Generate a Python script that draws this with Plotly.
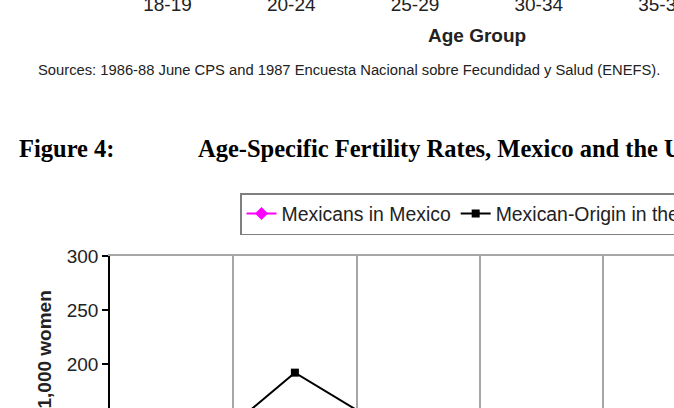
import plotly.graph_objects as go

# ---- data ----
age_groups = ["18-19", "20-24", "25-29", "30-34", "35-39", "40-44"]
mexicans_in_mexico = [110, 150, 145, 115, 75, 30]
mexican_origin_us = [96, 192, 123, 88, 52, 18]
y_tick_values = [200, 250, 300]

W, H = 674, 408
def px(x):
    return x / W
def py(y):
    return 1 - y / H

sans = "Liberation Sans, Arial, sans-serif"
serif = "Liberation Serif, Times New Roman, serif"
txt = "#222222"

fig = go.Figure()
fig.add_trace(go.Scatter(
    x=age_groups, y=mexicans_in_mexico, name="Mexicans in Mexico",
    mode="lines+markers", line=dict(color="#ff00ff", width=2),
    marker=dict(symbol="diamond", size=10, color="#ff00ff"),
    xaxis="x", yaxis="y"))
fig.add_trace(go.Scatter(
    x=age_groups, y=mexican_origin_us, name="Mexican-Origin in the U.S.",
    mode="lines+markers", line=dict(color="#000000", width=2),
    marker=dict(symbol="square", size=8, color="#000000"),
    xaxis="x", yaxis="y"))
# previous figure's category axis (only its labels are visible at the top)
fig.add_trace(go.Scatter(
    x=age_groups, y=[None] * len(age_groups), showlegend=False,
    hoverinfo="skip", xaxis="x2", yaxis="y2"))

fig.update_layout(
    width=W, height=H,
    margin=dict(l=0, r=0, t=0, b=0, autoexpand=False),
    paper_bgcolor="white", plot_bgcolor="white",
    font=dict(family=sans, color=txt, size=19),
    showlegend=True,
    legend=dict(
        orientation="h", x=px(240), y=py(193), xanchor="left", yanchor="top",
        bordercolor="#7f7f7f", borderwidth=1.5, bgcolor="white",
        font=dict(family=sans, size=19.4, color=txt),
        traceorder="normal"),
    xaxis=dict(
        domain=[px(110), 1], anchor="y", type="category",
        categoryorder="array", categoryarray=age_groups,
        range=[-0.5, -0.5 + (W - 110) / 123.25],
        tickson="boundaries", ticks="", showticklabels=False,
        showgrid=True, gridcolor="#a6a6a6", gridwidth=1.5,
        showline=True, side="top", linecolor="#a6a6a6", linewidth=1.5,
        zeroline=False),
    yaxis=dict(
        domain=[0, py(256)], anchor="x",
        range=[300 - (H - 256) / 1.08, 300],
        tickvals=y_tick_values, showgrid=False, zeroline=False,
        showline=True, linecolor="#000000", linewidth=1.5,
        ticks="outside", ticklen=6, tickcolor="#000000", tickwidth=1.5,
        tickfont=dict(family=sans, size=19, color=txt)),
    xaxis2=dict(
        domain=[px(105.6), 1], anchor="y2", type="category",
        categoryorder="array", categoryarray=age_groups,
        range=[-0.5, -0.5 + (W - 105.6) / 123.75],
        ticks="", showgrid=False, showline=False, zeroline=False,
        ticklabeloverflow="allow", ticklabelstandoff=-10,
        tickfont=dict(family=sans, size=19, color=txt)),
    yaxis2=dict(domain=[0.998, 1], anchor="x2", visible=False),
)

ann = [
    dict(text="<b>Age Group</b>", x=px(477), y=py(35), xanchor="center", yanchor="middle",
         font=dict(family=sans, size=19, color=txt)),
    dict(text="Sources: 1986-88 June CPS and 1987 Encuesta Nacional sobre Fecundidad y Salud (ENEFS).",
         x=px(36), y=py(70), xanchor="left", yanchor="middle",
         font=dict(family=sans, size=14.75, color=txt)),
    dict(text="<b>Figure 4:</b>", x=px(17), y=py(148), xanchor="left", yanchor="middle",
         font=dict(family=serif, size=24.5, color="#000000")),
    dict(text="<b>Age-Specific Fertility Rates, Mexico and the U.S.</b>", x=px(196), y=py(148),
         xanchor="left", yanchor="middle",
         font=dict(family=serif, size=24.5, color="#000000")),
    dict(text="<b>Births per 1,000 women</b>", x=px(44), y=py(289), xanchor="center", yanchor="top",
         textangle=-90, font=dict(family=sans, size=19, color=txt)),
]
for a in ann:
    a.update(xref="paper", yref="paper", showarrow=False)
fig.update_layout(annotations=ann)

fig.write_html("out.html")
